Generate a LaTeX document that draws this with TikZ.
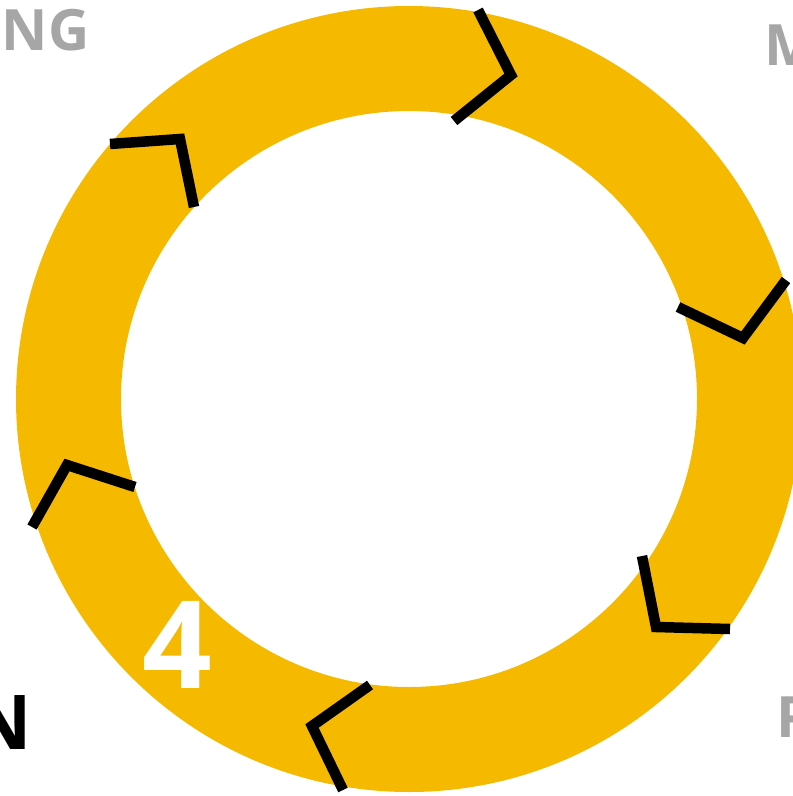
\documentclass[tikz,border=0pt]{standalone}
\usepackage{fontspec}
\newfontfamily\labfont{Open Sans}
\definecolor{ringyellow}{HTML}{F5BA00}
\definecolor{labgray}{HTML}{A6A6A6}
\tikzset{
  chev/.style={draw=black, line width=10.5pt, line join=miter, line cap=butt},
  lab/.style={inner sep=0pt, font=\labfont\bfseries\fontsize{57}{60}\selectfont, text=labgray},
}
\begin{document}
\begin{tikzpicture}[x=1pt,y=-1pt]
\useasboundingbox (0,0) rectangle (793,796);
\coordinate (c) at (409,399);
\fill[ringyellow, even odd rule] (c) circle[radius=393pt] (c) circle[radius=288pt];
% chevrons
\coordinate (a1) at (454,121); \coordinate (b1) at (511,75);  \coordinate (e1) at (478,10);
\coordinate (a2) at (678,307); \coordinate (b2) at (743,338); \coordinate (e2) at (786,280);
\coordinate (a3) at (642,556); \coordinate (b3) at (656,627); \coordinate (e3) at (730,629);
\coordinate (a4) at (370,685); \coordinate (b4) at (312,726); \coordinate (e4) at (343,790);
\coordinate (a5) at (135,487); \coordinate (b5) at (67,465);  \coordinate (e5) at (32,527);
\coordinate (a6) at (194,207); \coordinate (b6) at (180,139); \coordinate (e6) at (110,144);
\foreach \i in {1,...,6} {
  \draw[chev] (a\i) -- (b\i) -- (e\i);
}
% labels
\node[lab, anchor=base west] (ng) at (1.6,50) {NG};
\node[lab, anchor=base west] (m) at (764.6,65) {M};
\node[lab, anchor=base west] (p) at (776.6,737) {P};
\node[inner sep=0pt, anchor=base east, font=\labfont\bfseries\fontsize{75.6}{80}\selectfont, text=black] (n) at (32,749) {N};
\node[inner sep=0pt, anchor=base, font=\labfont\bfseries\fontsize{122}{130}\selectfont, text=white] (four) at (177,688) {4};
\end{tikzpicture}
\end{document}
